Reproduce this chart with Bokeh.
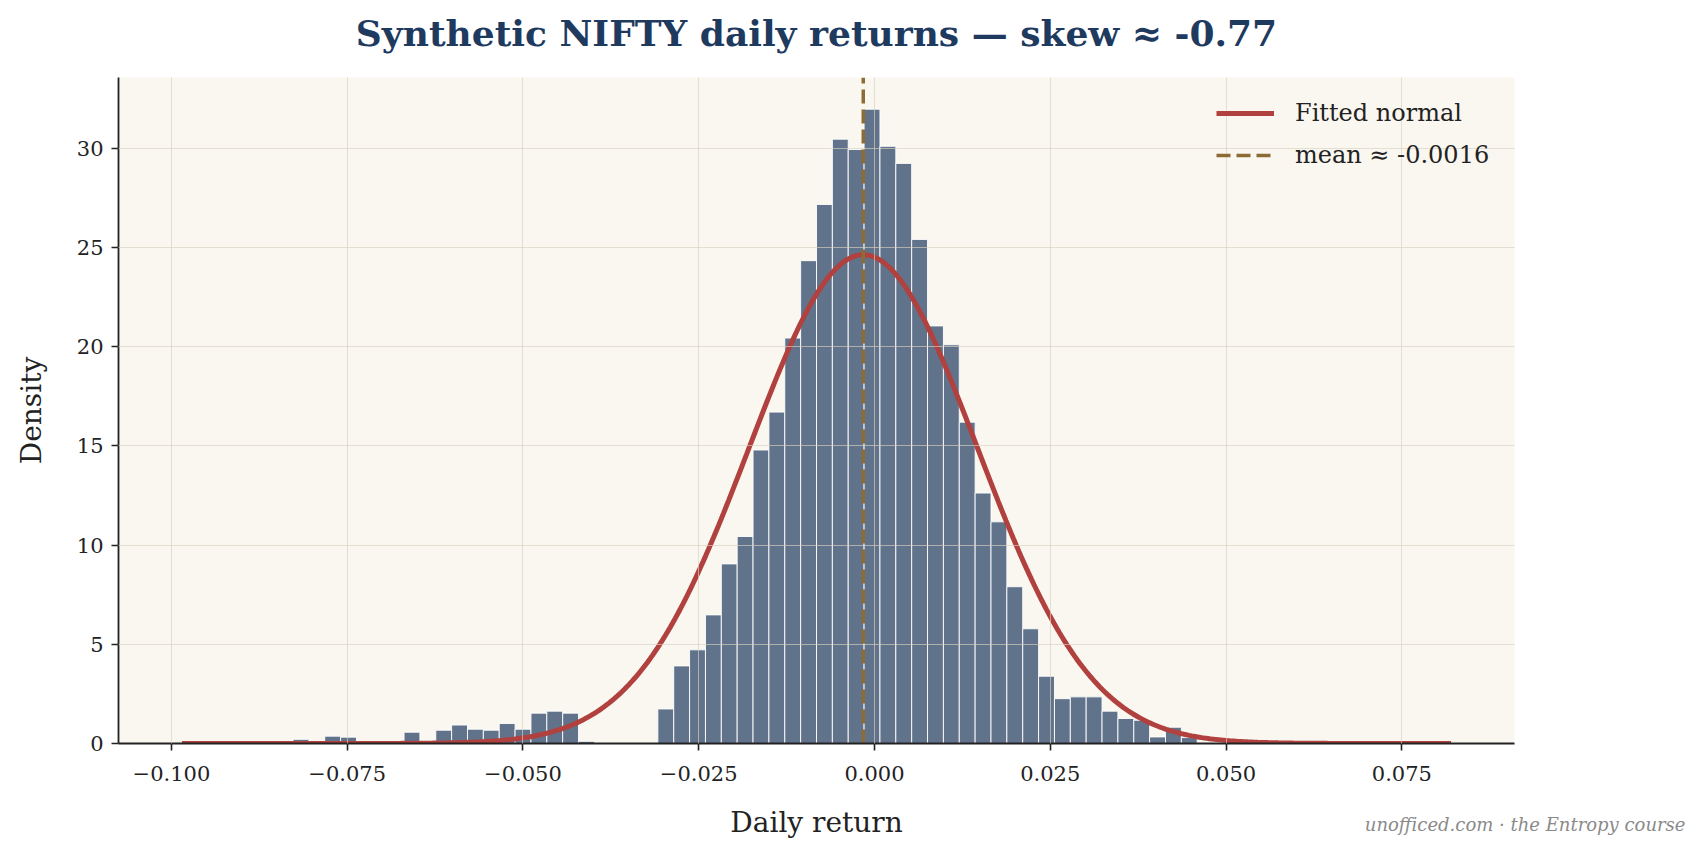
import numpy as np
from bokeh.plotting import figure
from bokeh.models import (Range1d, FixedTicker, CustomJSTickFormatter, Title,
                          Legend, LegendItem)
from bokeh.embed import file_html
from bokeh.resources import INLINE

# ---------------- data ----------------
RET_MIN = -0.0985          # smallest synthetic daily return
RET_MAX = 0.0820           # largest synthetic daily return
N_BINS = 80
MU = -0.0016               # sample mean
SIGMA = 0.0162             # sample std (fitted normal)
SKEW = -0.77

# histogram densities, one per bin (80 bins from RET_MIN to RET_MAX)
density = [
    0.09, 0.00, 0.00, 0.00, 0.00, 0.00, 0.00, 0.21, 0.00, 0.37,
    0.32, 0.00, 0.00, 0.00, 0.57, 0.00, 0.67, 0.93, 0.72, 0.67,
    1.01, 0.72, 1.53, 1.63, 1.53, 0.11, 0.00, 0.00, 0.00, 0.00,
    1.74, 3.91, 4.72, 6.48, 9.05, 10.43, 14.79, 16.70, 20.43, 24.33,
    27.16, 30.45, 29.93, 31.96, 30.09, 29.23, 25.40, 21.04, 20.09, 16.19,
    12.62, 11.17, 7.90, 5.78, 3.39, 2.26, 2.35, 2.35, 1.63, 1.26,
    1.17, 0.33, 0.82, 0.30, 0.00, 0.00, 0.00, 0.00, 0.00, 0.00,
    0.00, 0.00, 0.00, 0.00, 0.00, 0.00, 0.00, 0.00, 0.00, 0.09,
]

x_ticks = [-0.100, -0.075, -0.050, -0.025, 0.000, 0.025, 0.050, 0.075]
x_tick_labels = ["\u22120.100", "\u22120.075", "\u22120.050", "\u22120.025",
                 "0.000", "0.025", "0.050", "0.075"]
y_ticks = [0, 5, 10, 15, 20, 25, 30]

title_text = f"Synthetic NIFTY daily returns \u2014 skew \u2248 {SKEW:.2f}"
credit_text = "unofficed.com \u00b7 the Entropy course"

# ---------------- derived ----------------
edges = np.linspace(RET_MIN, RET_MAX, N_BINS + 1)
dens = np.array(density)
mask = dens > 0
span = RET_MAX - RET_MIN
x_lo, x_hi = RET_MIN - 0.05 * span, RET_MAX + 0.05 * span
y_top = max(density) * 1.05

xs = np.linspace(RET_MIN, RET_MAX, 500)
pdf = np.exp(-0.5 * ((xs - MU) / SIGMA) ** 2) / (SIGMA * np.sqrt(2 * np.pi))

SERIF = "DejaVu Serif"
INK = "#222222"

p = figure(width=1702, height=856, output_backend="svg", toolbar_location=None,
           x_range=Range1d(x_lo, x_hi), y_range=Range1d(0, y_top),
           min_border_left=118, min_border_right=188,
           min_border_top=77, min_border_bottom=113,
           background_fill_color="#faf7f0", border_fill_color="white",
           outline_line_color=None)
p.title.text = ""
p.title.standoff = 0

# spacer between frame and title, then the title itself
p.add_layout(Title(text=" ", text_font_size="1px", standoff=21), "above")
p.add_layout(Title(text=title_text, align="center", text_font=SERIF,
                   text_font_style="bold", text_font_size="36px",
                   text_color="#1f3a5f", standoff=0), "above")

# bars
bars = p.quad(left=edges[:-1][mask], right=edges[1:][mask], top=dens[mask], bottom=0,
              fill_color="#1f3a5f", fill_alpha=0.7, line_color="white",
              line_width=1, line_alpha=0.9)

# fitted normal
curve = p.line(xs, pdf, line_color="#b0413e", line_width=5)

# mean line
mean_line = p.segment(x0=[MU], y0=[0], x1=[MU], y1=[y_top], line_color="#8c6b35",
                      line_width=3.5, line_dash="14 6")

# axes
for ax in (p.xaxis[0], p.yaxis[0]):
    ax.axis_line_color = INK
    ax.axis_line_width = 1.8
    ax.major_tick_line_color = INK
    ax.major_tick_line_width = 1.6
    ax.major_tick_out = 7
    ax.major_tick_in = 0
    ax.minor_tick_line_color = None
    ax.major_label_text_font = SERIF
    ax.major_label_text_font_size = "21px"
    ax.major_label_text_color = INK
    ax.axis_label_text_font = SERIF
    ax.axis_label_text_font_size = "28px"
    ax.axis_label_text_font_style = "normal"
    ax.axis_label_text_color = INK

p.xaxis.ticker = FixedTicker(ticks=x_ticks)
p.xaxis.formatter = CustomJSTickFormatter(args=dict(tvals=x_ticks, tlabels=x_tick_labels), code="""
    for (let i = 0; i < tvals.length; i++) {
        if (Math.abs(tvals[i] - tick) < 1e-9) return tlabels[i];
    }
    return '';
""")
p.xaxis.axis_label = "Daily return"
p.xaxis.major_label_standoff = 15
p.xaxis.axis_label_standoff = 22

p.yaxis.ticker = FixedTicker(ticks=y_ticks)
p.yaxis.axis_label = "Density"
p.yaxis.major_label_standoff = 8
p.yaxis.axis_label_standoff = 26

# grid drawn above bars like the reference
for g in (p.xgrid[0], p.ygrid[0]):
    g.grid_line_color = "#d8d1bf"
    g.grid_line_alpha = 0.65
    g.grid_line_width = 1
    g.level = "guide"
p.xgrid.ticker = FixedTicker(ticks=x_ticks)
p.ygrid.ticker = FixedTicker(ticks=y_ticks)

# legend
legend = Legend(items=[LegendItem(label="Fitted normal", renderers=[curve]),
                       LegendItem(label=f"mean \u2248 {MU:.4f}", renderers=[mean_line])],
                location=(1098, 573), padding=0, spacing=12,
                glyph_width=58, glyph_height=30, label_height=30, label_standoff=21,
                label_text_font=SERIF, label_text_font_size="24px", label_text_color=INK,
                border_line_color=None, background_fill_alpha=0)
p.add_layout(legend, "center")

# credit line, bottom-right, on the same row as the x-axis label
credit = Title(text=credit_text, align="right", vertical_align="top", offset=-171,
               standoff=-56, text_font=SERIF, text_font_style="italic",
               text_font_size="18px", text_color="#8a8a8a")
p.add_layout(credit, "below")

open("out.html", "w").write(file_html(p, INLINE))
